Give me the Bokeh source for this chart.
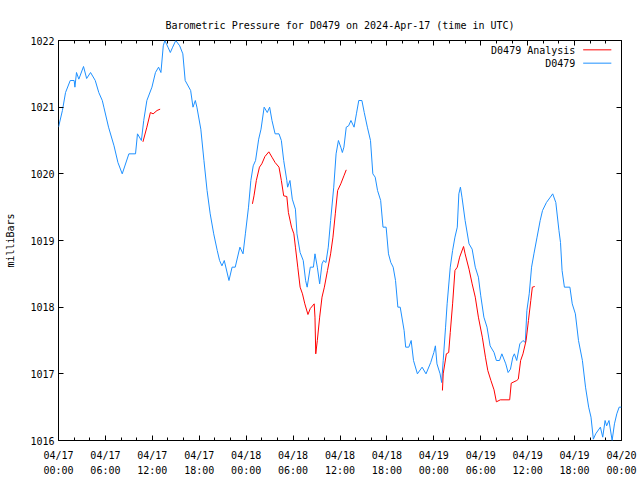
from bokeh.plotting import figure
from bokeh.models import (Range1d, FixedTicker, LinearAxis, CustomJSTickFormatter,
                          Label, Arrow, CustomLabelingPolicy)
from bokeh.embed import file_html
from bokeh.resources import INLINE

# hours since 2024-04-17 00:00 UTC
blue_hours = [0.0, 0.5, 0.9, 1.5, 2.0, 2.1, 2.3, 2.6, 3.2, 3.6, 4.1, 4.7, 5.15, 5.6, 5.8,
              6.4, 7.1, 7.6, 8.15, 9.0, 9.85, 10.1, 10.6, 10.9, 11.3, 11.95, 12.4, 12.8,
              13.1, 13.4, 13.6, 14.0, 14.3, 14.6, 15.0, 15.5, 15.9, 16.2, 16.9, 17.2,
              17.5, 17.7, 18.2, 18.6, 19.0, 19.4, 19.85, 20.3, 20.6, 20.9, 21.2, 21.8,
              22.2, 22.6, 23.2, 23.6, 23.9, 24.3, 24.6, 24.9, 25.2, 25.6, 25.9, 26.3,
              26.7, 27.0, 27.3, 27.7, 28.2, 28.5, 28.8, 29.2, 29.3, 29.6, 29.9, 30.3,
              30.5, 30.9, 31.3, 31.6, 31.8, 32.2, 32.6, 32.8, 33.1, 33.4, 33.7, 33.9,
              34.2, 34.5, 34.8, 35.2, 35.5, 35.8, 36.1, 36.3, 36.5, 36.8, 37.1, 37.4,
              37.8, 38.1, 38.4, 38.8, 39.1, 39.5, 39.9, 40.2, 40.5, 40.8, 41.2, 41.5,
              41.9, 42.2, 42.5, 42.8, 43.1, 43.4, 43.7, 44.2, 44.4, 44.8, 45.1, 45.4,
              45.9, 46.5, 47.0, 47.6, 48.0, 48.2, 48.4, 48.8, 49.0, 49.2, 49.5, 49.7,
              50.1, 50.4, 50.7, 51.0, 51.2, 51.4, 51.6, 52.0, 52.5, 52.9, 53.3, 53.7,
              54.0, 54.4, 54.8, 55.2, 55.7, 56.0, 56.4, 56.7, 57.2, 57.5, 57.8, 58.1,
              58.3, 58.6, 59.0, 59.4, 59.7, 59.9, 60.2, 60.5, 60.8, 61.2, 61.6, 61.9,
              62.4, 62.9, 63.2, 63.6, 64.0, 64.2, 64.4, 64.7, 65.4, 65.7, 66.1, 66.5,
              67.0, 67.4, 67.8, 68.1, 68.4, 68.7, 69.3, 69.6, 69.9, 70.1, 70.4, 70.8,
              71.1, 71.4, 71.7, 72.0]
blue_mb = [1020.70, 1020.95, 1021.22, 1021.40, 1021.40, 1021.30, 1021.52, 1021.42, 1021.61,
           1021.43, 1021.52, 1021.40, 1021.22, 1021.10, 1021.00, 1020.70, 1020.42, 1020.17,
           1020.00, 1020.30, 1020.30, 1020.60, 1020.50, 1020.80, 1021.10, 1021.30, 1021.52,
           1021.60, 1021.52, 1021.92, 1022.00, 1021.90, 1021.82, 1021.90, 1022.00, 1021.92,
           1021.80, 1021.40, 1021.25, 1021.00, 1021.10, 1021.00, 1020.67, 1020.20, 1019.75,
           1019.40, 1019.10, 1018.85, 1018.70, 1018.62, 1018.70, 1018.40, 1018.60, 1018.60,
           1018.90, 1018.80, 1019.10, 1019.50, 1019.90, 1020.12, 1020.20, 1020.52, 1020.67,
           1021.00, 1020.92, 1021.00, 1020.80, 1020.60, 1020.60, 1020.50, 1020.20, 1019.90,
           1019.80, 1019.90, 1019.62, 1019.47, 1019.10, 1018.82, 1018.70, 1018.40, 1018.30,
           1018.60, 1018.60, 1018.80, 1018.60, 1018.35, 1018.65, 1018.70, 1018.67, 1018.90,
           1019.30, 1019.80, 1020.30, 1020.50, 1020.40, 1020.32, 1020.40, 1020.70, 1020.72,
           1020.80, 1020.70, 1020.90, 1021.10, 1021.10, 1020.92, 1020.70, 1020.50, 1020.00,
           1019.95, 1019.75, 1019.60, 1019.20, 1019.20, 1018.80, 1018.67, 1018.60, 1018.40,
           1018.00, 1018.00, 1017.65, 1017.40, 1017.40, 1017.50, 1017.20, 1017.00, 1017.10,
           1017.00, 1017.17, 1017.32, 1017.42, 1017.15, 1017.00, 1016.87, 1017.20, 1017.70,
           1018.05, 1018.60, 1018.85, 1019.05, 1019.20, 1019.70, 1019.80, 1019.65, 1019.30,
           1018.95, 1018.87, 1018.60, 1018.45, 1018.17, 1017.85, 1017.70, 1017.42, 1017.32,
           1017.20, 1017.20, 1017.30, 1017.15, 1017.02, 1017.07, 1017.25, 1017.30, 1017.20,
           1017.45, 1017.50, 1017.47, 1017.95, 1018.20, 1018.60, 1018.80, 1019.05, 1019.30,
           1019.45, 1019.57, 1019.65, 1019.70, 1019.57, 1019.15, 1018.97, 1018.55, 1018.30,
           1018.30, 1018.05, 1017.90, 1017.50, 1017.20, 1016.80, 1016.50, 1016.35, 1016.02,
           1016.10, 1016.20, 1016.05, 1016.30, 1016.22, 1016.30, 1016.00, 1016.25, 1016.40,
           1016.50, 1016.50]

# analysis series (NaN = gap)
red_hours = [10.8, 11.3, 11.75, 12.1, 12.6, 13.0, 18.0,
             24.8, 25.0, 25.3, 25.7, 26.0, 26.4, 26.9, 27.3, 27.7, 28.2, 28.5, 28.8, 29.2,
             29.4, 29.8, 30.1, 30.3, 30.6, 30.9, 31.2, 31.5, 31.9, 32.2, 32.7, 32.8, 32.9,
             33.1, 33.4, 33.7, 34.0, 34.4, 34.8, 35.1, 35.4, 35.7, 36.1, 36.5, 36.8, 42.0,
             49.1, 49.2, 49.6, 49.9, 50.1, 50.4, 50.7, 51.0, 51.3, 51.8, 52.0, 52.5, 52.9,
             53.3, 53.7, 54.2, 54.6, 54.9, 55.3, 55.7, 56.0, 56.5, 57.7, 57.9, 58.6, 58.8,
             59.1, 59.4, 59.8, 60.1, 60.4, 60.6, 60.9]
red_mb = [1020.48, 1020.70, 1020.92, 1020.90, 1020.95, 1020.97, float("nan"),
          1019.55, 1019.67, 1019.90, 1020.10, 1020.15, 1020.26, 1020.33, 1020.25, 1020.17,
          1020.10, 1019.90, 1019.67, 1019.66, 1019.42, 1019.20, 1019.10, 1018.90, 1018.60,
          1018.30, 1018.20, 1018.05, 1017.89, 1017.98, 1018.05, 1017.85, 1017.30, 1017.50,
          1017.85, 1018.15, 1018.30, 1018.55, 1018.80, 1019.05, 1019.40, 1019.75, 1019.85,
          1019.97, 1020.06, float("nan"),
          1016.75, 1017.00, 1017.30, 1017.32, 1017.62, 1018.05, 1018.55, 1018.60, 1018.75,
          1018.91, 1018.80, 1018.57, 1018.35, 1018.15, 1017.85, 1017.55, 1017.25, 1017.05,
          1016.90, 1016.76, 1016.58, 1016.61, 1016.61, 1016.86, 1016.90, 1016.92, 1017.20,
          1017.30, 1017.50, 1017.80, 1018.10, 1018.30, 1018.31]

x_ticks = [0, 6, 12, 18, 24, 30, 36, 42, 48, 54, 60, 66, 72]
x_tick_labels = ["04/17\n00:00", "04/17\n06:00", "04/17\n12:00", "04/17\n18:00",
                 "04/18\n00:00", "04/18\n06:00", "04/18\n12:00", "04/18\n18:00",
                 "04/19\n00:00", "04/19\n06:00", "04/19\n12:00", "04/19\n18:00",
                 "04/20\n00:00"]
x_minor = list(range(0, 73, 2))
y_ticks = [1016, 1017, 1018, 1019, 1020, 1021, 1022]

title_text = "Barometric Pressure for D0479 on 2024-Apr-17 (time in UTC)"
series_names = ["D0479 Analysis", "D0479"]
RED = "#ff0000"
BLUE = "#1e90ff"
FONT = "DejaVu Sans Mono"

p = figure(width=640, height=480, output_backend="svg", toolbar_location=None,
           x_range=Range1d(0, 72), y_range=Range1d(1016, 1022),
           min_border_left=58, min_border_right=19, min_border_top=40, min_border_bottom=40,
           x_axis_location=None, y_axis_location=None)
p.title.text = title_text
p.title.align = "center"
p.title.text_font = FONT
p.title.text_font_size = "10px"
p.title.text_font_style = "normal"
p.title.text_color = "black"
p.title.standoff = 20

p.grid.visible = False
p.outline_line_color = "black"
p.outline_line_width = 1
p.background_fill_color = "white"
p.border_fill_color = "white"

xt = FixedTicker(ticks=x_ticks, minor_ticks=x_minor)
yt = FixedTicker(ticks=y_ticks, minor_ticks=[])
fmt = CustomJSTickFormatter(args=dict(lbls=x_tick_labels, tpos=x_ticks),
                            code="const i = tpos.indexOf(Math.round(tick)); return i >= 0 ? lbls[i] : '';")


def style(ax, labels=True):
    ax.axis_line_color = None
    ax.major_tick_in = 5
    ax.major_tick_out = 0
    ax.minor_tick_in = 3
    ax.minor_tick_out = 0
    ax.major_tick_line_color = "black"
    ax.minor_tick_line_color = "black"
    ax.major_label_text_font = FONT
    ax.major_label_text_font_size = "10px"
    ax.major_label_text_color = "black"
    if not labels:
        ax.formatter = CustomJSTickFormatter(code="return '';")
        ax.major_label_policy = CustomLabelingPolicy(code="return new Set();")
        ax.major_label_standoff = 0


bottom = LinearAxis(ticker=xt, formatter=fmt)
style(bottom)
bottom.major_label_standoff = 9
bottom.major_label_text_line_height = 1.45
p.add_layout(bottom, "below")

top = LinearAxis(ticker=xt)
style(top, labels=False)
p.add_layout(top, "above")

left = LinearAxis(ticker=yt, axis_label="milliBars")
style(left)
left.major_label_standoff = 4
left.axis_label_text_font = FONT
left.axis_label_text_font_size = "10px"
left.axis_label_text_font_style = "normal"
left.axis_label_text_color = "black"
left.axis_label_standoff = 11
p.add_layout(left, "left")

right = LinearAxis(ticker=yt)
style(right, labels=False)
p.add_layout(right, "right")

p.line(blue_hours, blue_mb, line_color=BLUE, line_width=1)
p.line(red_hours, red_mb, line_color=RED, line_width=1)

# legend (text left of sample, gnuplot style)
leg_y = [1021.85, 1021.65]
leg_colors = [RED, BLUE]
for name, yy, col in zip(series_names, leg_y, leg_colors):
    p.add_layout(Label(x=66.1, y=yy, text=name, text_align="right", text_baseline="middle",
                       text_font=FONT, text_font_size="10px", text_color="black"))
    p.add_layout(Arrow(end=None, x_start=67.1, x_end=70.7, y_start=yy + 0.01, y_end=yy + 0.01,
                       line_color=col, line_width=1))

open("out.html", "w").write(file_html(p, INLINE))
